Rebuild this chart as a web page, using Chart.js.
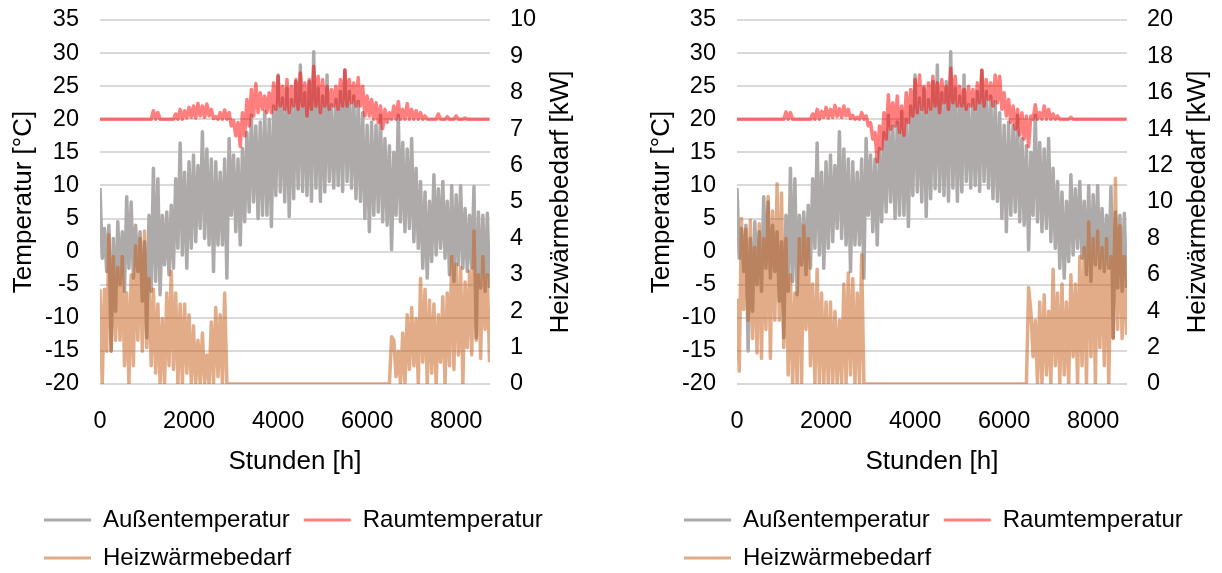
<!DOCTYPE html>
<html lang="de">
<head>
<meta charset="utf-8">
<title>Außentemperatur, Raumtemperatur und Heizwärmebedarf</title>
<script src="https://cdn.jsdelivr.net/npm/chart.js@4.4.1/dist/chart.umd.min.js"></script>
<style>
  html, body { margin: 0; padding: 0; background: #fff; overflow: hidden; }
  canvas { position: absolute; top: 0; }
  #chartLeft { left: 0; }
  #chartRight { left: 637px; }
</style>
</head>
<body>
<canvas id="chartLeft" width="611" height="580"></canvas>
<canvas id="chartRight" width="585" height="580"></canvas>
<script>
// ===========================
// DATA (one value every 50 h:
// peak / trough of each 100 h block)
// ===========================

const seriesNames = ['Außentemperatur', 'Raumtemperatur', 'Heizwärmebedarf'];

// x positions of the samples in hours
const hours = Array.from({ length: 176 }, (_, i) => i * 50);

// tick labels of the hour axis
const hourTicks = [0, 2000, 4000, 6000, 8000];

// Außentemperatur [°C] - same weather file in both charts
const outdoorTemp = [
  9.6, -1.0, 3.5, -3.0, 4.0, -15.0, 2.0, -9.0, 4.5, -5.0, 3.0, -6.0, 8.3, -2.5, 7.5, -4.0, 4.0, -3.0, 3.0, -7.5,
  1.5, -13.0, 5.5, -6.0, 12.6, -4.5, 11.0, -6.5, 5.5, -2.0, 6.0, -3.5, 7.0, -2.5, 11.0, 0.5, 16.4, -0.5, 12.0, -2.5,
  13.6, 0.5, 14.6, 1.5, 13.0, 3.5, 18.1, 2.0, 15.5, 1.0, 14.0, -3.0, 13.6, 1.0, 12.0, 1.0, 14.0, -4.0, 17.1, 5.5,
  14.6, 3.0, 14.0, 1.0, 15.6, 4.5, 18.0, 6.0, 20.6, 7.5, 19.0, 5.0, 19.6, 5.5, 21.2, 5.5, 20.0, 3.8, 22.0, 8.5,
  26.7, 9.0, 23.2, 7.5, 24.7, 5.3, 23.0, 8.0, 25.7, 9.5, 28.2, 9.1, 24.0, 8.5, 25.7, 7.6, 30.2, 9.6, 24.7, 7.6,
  23.5, 9.0, 26.7, 10.6, 22.2, 9.6, 23.0, 10.0, 24.2, 9.1, 27.4, 10.6, 24.2, 9.6, 23.5, 8.0, 22.7, 7.6, 21.0, 5.0,
  19.1, 3.0, 19.6, 5.5, 19.1, 6.0, 20.6, 4.5, 17.1, 4.0, 16.0, 0.3, 15.0, 5.5, 20.6, 4.5, 16.5, 3.0, 15.5, 3.5,
  17.1, 1.5, 12.6, 0.5, 10.6, -2.5, 9.0, -4.0, 7.6, -1.5, 11.6, -0.5, 9.5, 0.5, 10.6, -1.0, 7.6, -3.5, 10.0, -4.5,
  8.6, -2.0, 10.0, -2.5, 6.5, -3.0, 5.5, -2.5, 9.8, -13.0, 6.0, -5.5, 5.5, -6.0, 5.8, -5.5
];

// Raumtemperatur [°C] - left chart
const roomTempLeft = [
  20, 20, 20, 20, 20, 20, 20, 20, 20, 20, 20, 20, 20, 20, 20, 20, 20, 20, 20, 20,
  20, 20, 20, 20, 21.3, 20, 21.0, 20, 20, 20, 20, 20, 20, 20, 20.8, 20, 21.5, 20, 21.3, 20.2,
  21.8, 20.3, 22.0, 20.2, 22.4, 20.5, 22.0, 20.3, 22.3, 20.5, 21.5, 20.1, 20.4, 20, 21.0, 20, 21.4, 20, 21.0, 19.0,
  19.8, 17.5, 19.5, 15.9, 21.0, 17.5, 23.0, 19.0, 24.5, 20.5, 25.4, 21.0, 24.0, 21.5, 23.5, 21.0, 24.0, 21.0, 25.5, 21.5,
  26.5, 22.0, 25.0, 21.5, 26.0, 21.0, 25.0, 22.0, 26.0, 21.5, 27.0, 22.0, 25.5, 20.5, 26.0, 21.5, 28.0, 22.0, 26.5, 21.0,
  26.0, 22.0, 25.0, 21.5, 24.5, 22.0, 25.0, 21.5, 26.0, 22.0, 27.5, 22.0, 26.0, 22.5, 25.5, 22.0, 26.3, 22.0, 25.0, 20.5,
  23.5, 20.5, 23.0, 20.0, 22.5, 19.5, 22.0, 18.6, 21.5, 19.5, 21.0, 20.0, 22.0, 20.0, 22.7, 20.0, 21.5, 20.0, 22.4, 20.0,
  21.5, 20, 21.3, 20, 21.0, 20, 20.5, 20, 20, 20, 20, 20, 20.8, 20, 20, 20, 20.4, 20, 20, 20,
  20.5, 20, 20, 20, 20.2, 20, 20, 20, 20, 20, 20, 20, 20, 20, 20, 20
];

// Raumtemperatur [°C] - right chart
const roomTempRight = [
  20, 20, 20, 20, 20, 20, 20, 20, 20, 20, 20, 20, 20, 20, 20, 20, 20, 20, 20, 20,
  20, 20, 21.1, 20, 21.0, 20, 20, 20, 20, 20, 20, 20, 20, 20, 20.8, 20, 21.5, 20, 21.2, 20.3,
  21.8, 20.2, 21.5, 20.3, 22.1, 20.4, 21.6, 20.3, 22.0, 20.5, 21.5, 20.1, 20.6, 20, 20.3, 20, 21.0, 20, 20.5, 19.0,
  19.5, 17.0, 18.0, 13.6, 19.0, 15.5, 21.0, 17.0, 23.7, 18.5, 22.5, 19.0, 23.5, 18.0, 22.0, 17.6, 24.0, 19.5, 24.5, 20.5,
  26.0, 21.0, 26.7, 21.5, 25.0, 21.0, 25.5, 21.5, 26.5, 22.0, 25.5, 21.0, 26.0, 22.5, 25.0, 21.5, 27.7, 22.5, 26.5, 22.0,
  25.0, 22.0, 24.5, 21.5, 25.0, 22.0, 24.5, 21.5, 25.5, 22.5, 27.4, 22.0, 26.0, 23.0, 25.5, 22.0, 26.7, 22.5, 26.5, 21.5,
  24.0, 20.5, 23.0, 19.5, 22.0, 18.5, 21.5, 17.6, 21.0, 17.0, 20.5, 15.9, 20.5, 20.0, 22.2, 20.0, 21.0, 20.0, 22.0, 20.0,
  21.5, 20, 20.8, 20, 20.5, 20, 20, 20, 20, 20, 20.3, 20, 20, 20, 20, 20, 20, 20, 20, 20,
  20, 20, 20, 20, 20, 20, 20, 20, 20, 20, 20, 20, 20, 20, 20, 20
];

// Heizwärmebedarf [kW] - left chart
const heatDemandLeft = [
  2.6, 0, 2.6, 0.9, 4.1, 0.9, 3.5, 1.2, 3.2, 1.2, 3.5, 0.5, 2.5, 0, 3.0, 0.5, 3.8, 1.2, 4.0, 0.9,
  4.2, 1.0, 2.9, 0.5, 2.6, 0.3, 2.2, 0, 1.8, 0, 2.5, 0.5, 3.1, 0.4, 2.5, 0, 2.2, 0, 2.2, 0.3,
  1.9, 0, 1.6, 0, 1.2, 0, 1.4, 0, 0.8, 0, 1.7, 0, 2.1, 0.2, 1.9, 0, 2.5, 0, 0, 0,
  0, 0, 0, 0, 0, 0, 0, 0, 0, 0, 0, 0, 0, 0, 0, 0, 0, 0, 0, 0,
  0, 0, 0, 0, 0, 0, 0, 0, 0, 0, 0, 0, 0, 0, 0, 0, 0, 0, 0, 0,
  0, 0, 0, 0, 0, 0, 0, 0, 0, 0, 0, 0, 0, 0, 0, 0, 0, 0, 0, 0,
  0, 0, 0, 0, 0, 0, 0, 0, 0, 0, 0, 1.3, 1.2, 0.2, 0.9, 0, 1.4, 0, 1.9, 0.4,
  2.1, 0.5, 1.8, 0, 2.9, 0.6, 2.6, 0, 2.3, 0.3, 2.2, 0, 1.9, 0.6, 2.4, 0, 2.5, 0.5, 3.5, 0.4,
  3.3, 0.8, 3.2, 0, 2.8, 1.0, 3.1, 0.8, 4.2, 1.2, 3.0, 0.7, 3.5, 1.5, 3.0, 0.6
];

// Heizwärmebedarf [kW] - right chart
const heatDemandRight = [
  4.7, 0.7, 9.1, 4.1, 8.5, 3.5, 9.0, 2.5, 7.5, 1.7, 8.8, 1.4, 8.0, 3.0, 10.3, 1.4, 9.5, 3.5, 11.0, 3.5,
  10.5, 2.0, 8.0, 0.5, 6.0, 0, 5.0, 0, 8.0, 0, 8.7, 3.0, 8.0, 1.0, 5.5, 0, 6.3, 0, 5.0, 0,
  4.5, 0, 4.5, 0, 4.0, 0, 3.5, 0, 5.5, 0, 6.1, 0.5, 5.8, 0, 5.0, 0, 7.1, 0, 0, 0,
  0, 0, 0, 0, 0, 0, 0, 0, 0, 0, 0, 0, 0, 0, 0, 0, 0, 0, 0, 0,
  0, 0, 0, 0, 0, 0, 0, 0, 0, 0, 0, 0, 0, 0, 0, 0, 0, 0, 0, 0,
  0, 0, 0, 0, 0, 0, 0, 0, 0, 0, 0, 0, 0, 0, 0, 0, 0, 0, 0, 0,
  0, 0, 0, 0, 0, 0, 0, 0, 0, 0, 0, 5.3, 4.0, 1.5, 3.5, 0, 4.5, 0, 4.9, 0.5,
  4.0, 0, 6.3, 1.0, 5.0, 0, 5.5, 0.5, 4.5, 0, 6.0, 1.5, 5.5, 0, 7.0, 1.0, 7.5, 0, 8.9, 1.5,
  8.0, 0, 8.4, 2.0, 7.5, 1.0, 8.0, 0, 7.0, 2.5, 11.3, 3.0, 8.7, 2.5, 7.0, 2.7
];

// ===========================
// STYLE
// ===========================
Chart.defaults.font.family = '"Liberation Sans", Arial, sans-serif';
Chart.defaults.color = '#000';

const COLORS = {
  outdoor: '#AEAAAA',
  room: 'rgba(255, 0, 0, 0.5)',
  heat: 'rgba(197, 90, 17, 0.5)',
  grid: '#D9D9D9'
};

// right axis title reads bottom-to-top like the left one
const rightAxisTitle = {
  id: 'rightAxisTitle',
  afterDraw(chart, args, opts) {
    const { ctx, chartArea } = chart;
    ctx.save();
    ctx.translate(chartArea.right + opts.offset, (chartArea.top + chartArea.bottom) / 2);
    ctx.rotate(-Math.PI / 2);
    ctx.font = '26px "Liberation Sans", Arial, sans-serif';
    ctx.fillStyle = '#000';
    ctx.textAlign = 'center';
    ctx.textBaseline = 'middle';
    ctx.fillText(opts.text, 0, 0);
    ctx.restore();
  }
};

// vertical axes: fixed width, no extra room reserved above / below
function fitVertical(width) {
  return scale => {
    scale.width = width;
    scale.paddingTop = 0;
    scale.paddingBottom = 0;
  };
}

function createChart(canvasId, cfg) {
  const canvas = document.getElementById(canvasId);

  return new Chart(canvas, {
    type: 'line',
    data: {
      labels: hours,
      datasets: [
        { label: seriesNames[0], data: outdoorTemp, borderColor: COLORS.outdoor, yAxisID: 'y', order: 3 },
        { label: seriesNames[1], data: cfg.room, borderColor: COLORS.room, yAxisID: 'y', order: 2 },
        { label: seriesNames[2], data: cfg.heat, borderColor: COLORS.heat, yAxisID: 'y1', order: 1 }
      ].map(ds => ({
        ...ds,
        backgroundColor: ds.borderColor,
        borderWidth: 3.5,
        borderJoinStyle: 'round',
        pointRadius: 0,
        tension: 0,
        fill: false
      }))
    },
    plugins: [rightAxisTitle],
    options: {
      responsive: false,
      animation: false,
      events: [],
      layout: {
        padding: { left: cfg.padLeft, top: 20, right: 0, bottom: 0 }
      },
      plugins: {
        tooltip: { enabled: false },
        rightAxisTitle: { text: 'Heizwärmebedarf [kW]', offset: 71 },
        legend: {
          position: 'bottom',
          align: 'start',
          labels: {
            boxWidth: 47,
            boxHeight: 3,
            padding: 14,
            color: '#000',
            font: { size: 24 },
            sort: (a, b) => a.datasetIndex - b.datasetIndex,
            generateLabels: chart =>
              Chart.defaults.plugins.legend.labels.generateLabels(chart).map(item => ({
                ...item,
                fillStyle: item.strokeStyle,
                lineWidth: 0
              }))
          }
        }
      },
      scales: {
        x: {
          type: 'linear',
          min: 0,
          max: 8760,
          afterFit: scale => { scale.height = 110; },
          afterBuildTicks: scale => { scale.ticks = hourTicks.map(value => ({ value })); },
          grid: { display: false, drawTicks: false },
          border: { display: false },
          ticks: {
            autoSkip: false,
            maxRotation: 0,
            padding: 23,
            font: { size: 23.5 },
            callback: value => String(value)
          },
          title: {
            display: true,
            text: 'Stunden [h]',
            font: { size: 26 },
            padding: { top: 0, bottom: 16.4 }
          }
        },
        y: {
          position: 'left',
          min: -20,
          max: 35,
          afterFit: fitVertical(100 - cfg.padLeft),
          grid: { color: COLORS.grid, lineWidth: 2, drawTicks: false },
          border: { display: false },
          ticks: { stepSize: 5, padding: 21, font: { size: 23.5 } },
          title: {
            display: true,
            text: 'Temperatur [°C]',
            font: { size: 26 },
            padding: { top: cfg.titlePad, bottom: 0 }
          }
        },
        y1: {
          position: 'right',
          min: 0,
          max: cfg.heatMax,
          afterFit: fitVertical(canvas.width - 490),
          grid: { display: false, drawTicks: false },
          border: { display: false },
          ticks: { stepSize: cfg.heatStep, padding: 20, font: { size: 23.5 } }
        }
      }
    }
  });
}

createChart('chartLeft', {
  room: roomTempLeft,
  heat: heatDemandLeft,
  heatMax: 10,
  heatStep: 1,
  padLeft: 30,
  titlePad: -21.6
});

createChart('chartRight', {
  room: roomTempRight,
  heat: heatDemandRight,
  heatMax: 20,
  heatStep: 2,
  padLeft: 33,
  titlePad: -23.6
});
</script>
</body>
</html>
